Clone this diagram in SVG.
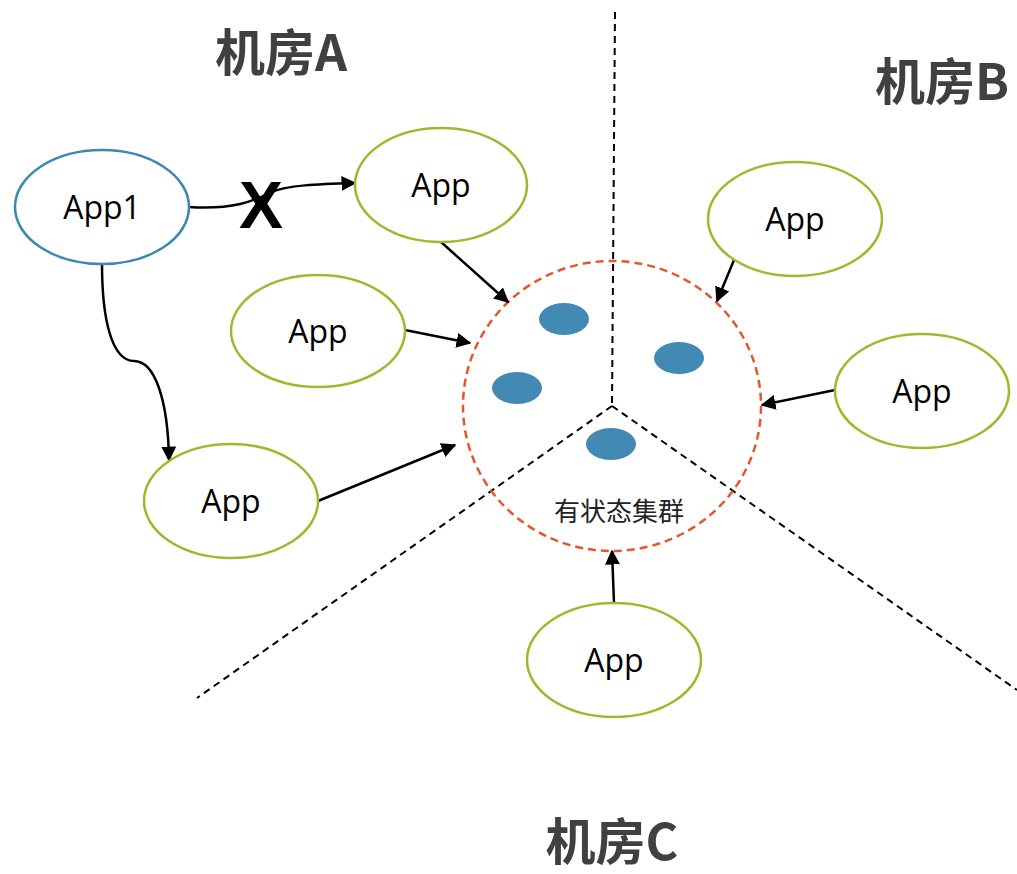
<svg xmlns="http://www.w3.org/2000/svg" width="1017" height="874" viewBox="0 0 1017 874">
<style>
.app{fill:#fff;stroke:#a3b62e;stroke-width:2.5}
.app1{fill:#fff;stroke:#3d87b1;stroke-width:2.5}
.lbl{font-family:"Open Sans","Liberation Sans",sans-serif;font-size:32px;fill:#000;text-anchor:middle}
.room{font-family:"Noto Sans CJK SC","Liberation Sans",sans-serif;font-size:50px;font-weight:bold;fill:#404040;text-anchor:middle}
.div{stroke:#000;stroke-width:2;stroke-dasharray:7,5;fill:none}
.conn{stroke:#000;stroke-width:2.5;fill:none;marker-end:url(#arr)}
.dot{fill:#4289b4}
</style>
<defs>
<marker id="arr" viewBox="0 0 10 10" refX="9" refY="5" markerWidth="6" markerHeight="6" markerUnits="strokeWidth" orient="auto">
<path d="M0,0 L10,5 L0,10 Z" fill="#000"/>
</marker>
</defs>
<rect width="1017" height="874" fill="#fff"/>
<g id="dividers">
<line class="div" x1="615" y1="12" x2="612" y2="406"/>
<line class="div" x1="612" y1="406" x2="197" y2="698"/>
<line class="div" x1="612" y1="406" x2="1017" y2="690"/>
</g>
<g id="cluster">
<ellipse cx="612" cy="406" rx="149" ry="145" fill="none" stroke="#e4572e" stroke-width="2.5" stroke-dasharray="8,5"/>
<ellipse class="dot" cx="564" cy="319" rx="25" ry="16"/>
<ellipse class="dot" cx="679" cy="358" rx="25" ry="16"/>
<ellipse class="dot" cx="517" cy="388" rx="25" ry="16"/>
<ellipse class="dot" cx="611" cy="444" rx="25" ry="16"/>
<text x="619" y="521" font-family="Noto Sans CJK SC,sans-serif" font-size="26" fill="#222" text-anchor="middle">有状态集群</text>
</g>
<g id="rooms">
<text class="room" x="281" y="71">机房A</text>
<text class="room" x="942" y="100">机房B</text>
<text class="room" x="612" y="860">机房C</text>
</g>
<g id="connectors">
<path class="conn" d="M189,207 C235,210 255,200 270,193 C285,185 320,184 355,183"/>
<path class="conn" d="M102,264 C102,320 112,361 134,361 C155,361 168,400 169,460"/>
<line class="conn" x1="441" y1="242" x2="508" y2="302"/>
<line class="conn" x1="405" y1="330" x2="470" y2="343"/>
<line class="conn" x1="318" y1="501" x2="455" y2="445"/>
<line class="conn" x1="734" y1="260" x2="717" y2="301"/>
<line class="conn" x1="835" y1="390" x2="762" y2="405"/>
<line class="conn" x1="614" y1="603" x2="612" y2="551"/>
<text x="261" y="228" font-family="Liberation Sans,sans-serif" font-size="66" font-weight="bold" fill="#000" text-anchor="middle">X</text>
</g>
<g id="app1"><ellipse class="app1" cx="102" cy="207" rx="87" ry="57"/><text class="lbl" x="102" y="219">App1</text></g>
<g id="appA1"><ellipse class="app" cx="441" cy="185" rx="86" ry="57"/><text class="lbl" x="441" y="197">App</text></g>
<g id="appA2"><ellipse class="app" cx="318" cy="331" rx="87" ry="56"/><text class="lbl" x="318" y="343">App</text></g>
<g id="appA3"><ellipse class="app" cx="231" cy="501" rx="87" ry="57"/><text class="lbl" x="231" y="513">App</text></g>
<g id="appB1"><ellipse class="app" cx="795" cy="219" rx="87" ry="57"/><text class="lbl" x="795" y="231">App</text></g>
<g id="appB2"><ellipse class="app" cx="922" cy="391" rx="87" ry="57"/><text class="lbl" x="922" y="403">App</text></g>
<g id="appC1"><ellipse class="app" cx="614" cy="660" rx="87" ry="57"/><text class="lbl" x="614" y="672">App</text></g>
</svg>
